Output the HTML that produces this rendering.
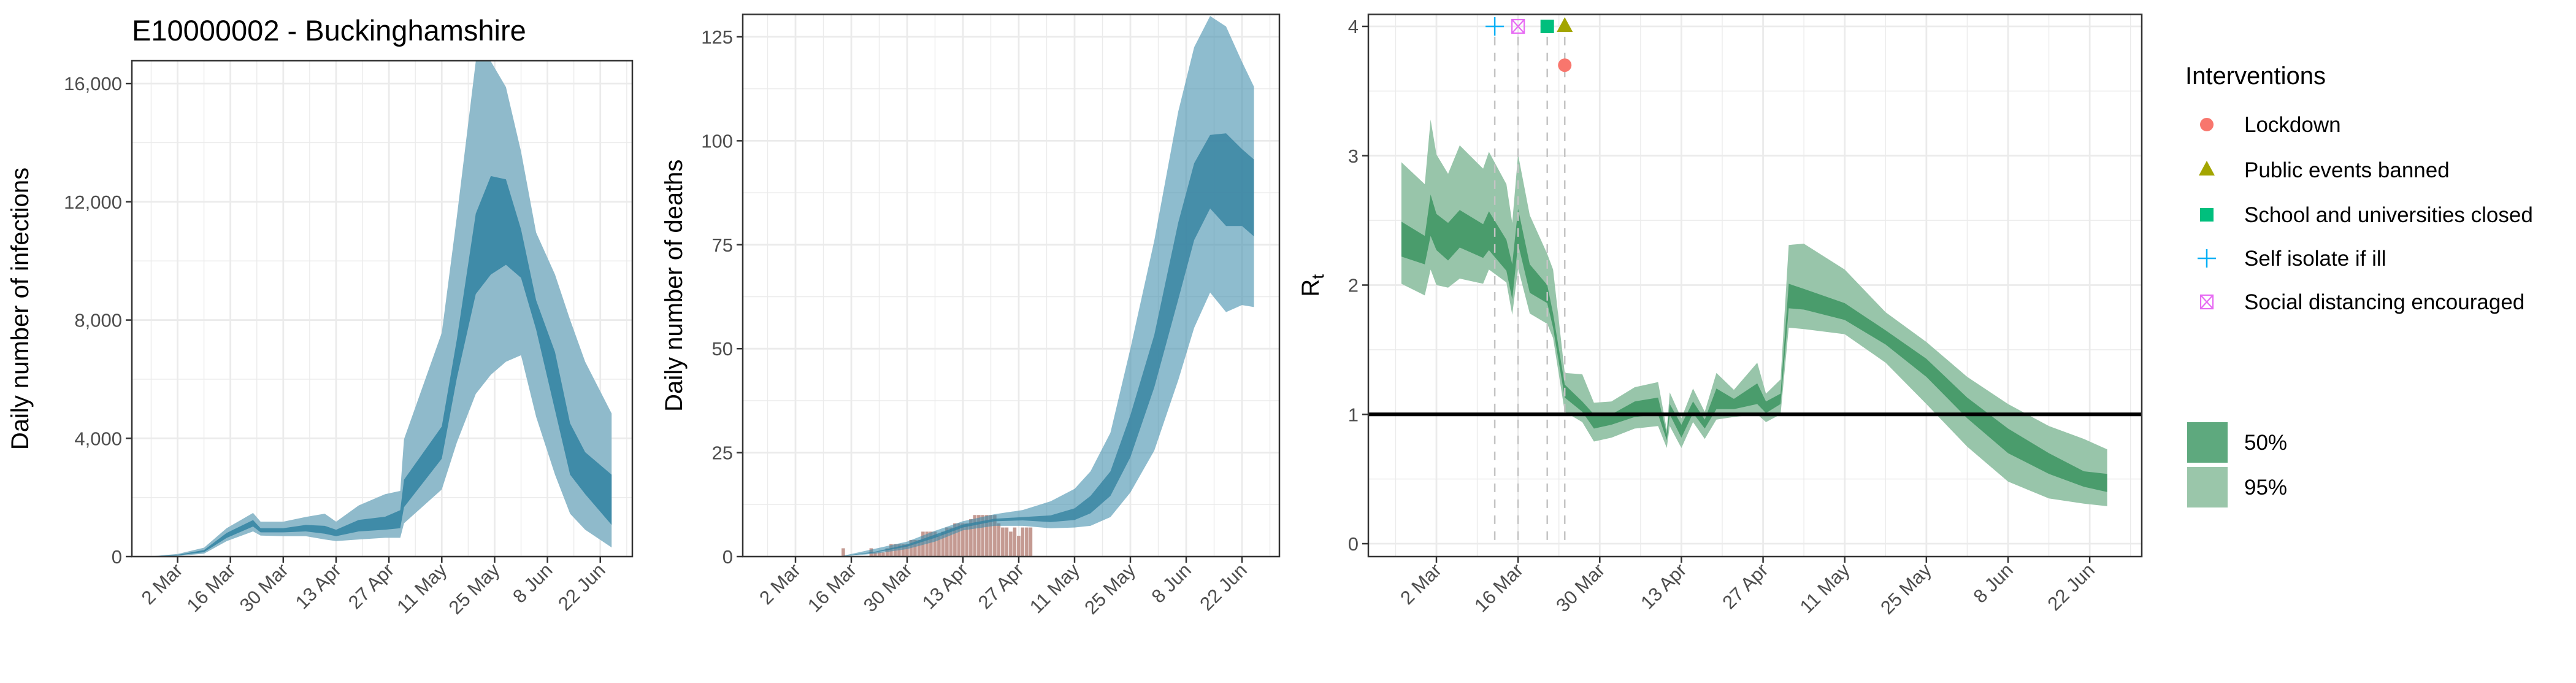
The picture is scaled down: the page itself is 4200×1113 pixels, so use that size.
<!DOCTYPE html>
<html><head><meta charset="utf-8"><style>
html,body{margin:0;padding:0;background:#fff;}
svg{display:block;font-family:"Liberation Sans",sans-serif;}
</style></head><body>
<svg id="chart" width="4200" height="1113" viewBox="0 0 4200 1113" xmlns="http://www.w3.org/2000/svg">
<rect width="4200" height="1113" fill="#fff"/>
<text x="215" y="66" font-size="47" fill="#000">E10000002 - Buckinghamshire</text>
<g id="p1"></g>
<g id="p2"></g>
<g id="p3"></g>
<g id="legend"></g>
</svg>
<script>
const tickDays=[0,14,28,42,56,70,84,98,112];
const tickLabels=["2 Mar","16 Mar","30 Mar","13 Apr","27 Apr","11 May","25 May","8 Jun","22 Jun"];
const minorDays=[-7,7,21,35,49,63,77,91,105,119];

const infDays=[-6,0,7,13,20,22,28,34,39,42,48,55,59,60,70,74,79,83,87,91,95,100,104,108,115];
const infU95=[20,90,300,960,1475,1180,1180,1340,1450,1180,1730,2110,2220,3970,7570,11500,16750,16750,15880,13700,10960,9540,8010,6590,4840];
const infU50=[10,60,220,800,1235,960,960,1070,1040,910,1240,1350,1570,2600,4400,7350,11600,12870,12760,11070,8670,6920,4510,3530,2770];
const infL50=[5,40,150,630,1016,820,820,850,775,690,850,910,960,1670,3310,6040,8880,9540,9870,9430,7680,4950,2770,2110,1070];
const infL95=[0,20,100,520,850,710,690,690,580,525,580,635,635,1125,2270,3860,5500,6150,6590,6810,4730,2770,1450,910,310];
const infTicks=[0,4000,8000,12000,16000];
const infTickLabels=["0","4,000","8,000","12,000","16,000"];

const dthDays=[11,20,28,35,42,50,57,64,70,74,79,84,90,96,100,104,108,112,115];
const dthU95=[0,1.9,3.6,6.2,8.5,10.2,11.2,13.3,16.3,20.5,29.8,50,76,107,122.5,130,127.5,119,113];
const dthU50=[0,1.2,2.9,5.3,7.7,9.1,9.5,9.9,11.6,14.6,20.5,34,53.3,80.3,94.6,101.4,101.8,98,95.5];
const dthL50=[0,1.0,2.4,4.5,7.0,8.5,8.7,8.3,8.8,10.4,14.6,23.9,40.7,61.8,76.1,83.7,79.5,79.5,77];
const dthL95=[0,0.7,1.8,3.6,6.3,7.4,7.4,6.8,7.0,7.4,9.5,15.4,25.5,42.4,55,63.5,58.8,60.5,60];
const obsDays=[12,13,14,15,16,17,18,19,20,21,22,23,24,25,26,27,28,29,30,31,32,33,34,35,36,37,38,39,40,41,42,43,44,45,46,47,48,49,50,51,52,53,54,55,56,57,58,59];
const obsDeaths=[2,0,0,0,0,0,0,2,1,1,1,2,3,3,3,3,3,4,4,4,6,6,6,6,5,6,7,7,8,8,8,8,9,10,10,10,10,10,10,8,7,7,6,7,5,7,7,7];
const dthTicks=[0,25,50,75,100,125];
const dthTickLabels=["0","25","50","75","100","125"];

const rtDays=[-6,-2,-1,0,2,4,8,9,12,13,14,16,19,20,22,25,27,30,34,38,39.5,40,42,44,46,48,51,55,56.5,59,60.4,63,70,77,84,91,98,105,111,115];
const rtU95=[2.95,2.78,3.28,3.01,2.86,3.08,2.90,3.03,2.78,2.48,3.01,2.54,2.24,2.12,1.32,1.31,1.09,1.10,1.21,1.25,0.88,1.17,0.97,1.20,1.02,1.32,1.19,1.40,1.16,1.27,2.31,2.32,2.12,1.79,1.56,1.29,1.08,0.91,0.81,0.73];
const rtU50=[2.49,2.38,2.70,2.55,2.48,2.58,2.47,2.57,2.35,2.16,2.59,2.16,2.00,1.78,1.23,1.10,1.00,1.00,1.10,1.13,0.85,1.08,0.92,1.10,0.96,1.20,1.12,1.24,1.10,1.16,2.01,1.97,1.86,1.65,1.43,1.13,0.89,0.70,0.56,0.54];
const rtL50=[2.22,2.16,2.38,2.27,2.19,2.29,2.21,2.27,2.11,1.89,2.32,1.94,1.86,1.67,1.13,1.02,0.89,0.92,0.98,1.00,0.80,1.00,0.82,1.01,0.89,1.04,1.04,1.08,1.01,1.08,1.82,1.81,1.73,1.54,1.29,0.97,0.70,0.54,0.44,0.40];
const rtL95=[2.01,1.92,2.12,2.00,1.98,2.05,2.01,2.12,2.02,1.77,2.13,1.78,1.70,1.59,1.02,0.94,0.79,0.82,0.89,0.91,0.74,0.91,0.74,0.94,0.81,0.96,0.98,1.00,0.94,1.00,1.67,1.66,1.62,1.40,1.08,0.75,0.48,0.35,0.31,0.29];
const rtTicks=[0,1,2,3,4];
const rtTickLabels=["0","1","2","3","4"];

const intNames=["Lockdown","Public events banned","School and universities closed","Self isolate if ill","Social distancing encouraged"];
const intDays=[22,22,19,10,14];
const intY=[3.7,4,4,4,4];
const intColors=["#F8766D","#A3A500","#00BF7D","#00B0F6","#E76BF3"];

const NS="http://www.w3.org/2000/svg";
function mk(parent,tag,attrs){const e=document.createElementNS(NS,tag);for(const k in attrs)e.setAttribute(k,attrs[k]);parent.appendChild(e);return e;}

function panel(g,cfg){
  const {L,R,T,B,x,y,yMajor,yMinor,yLabels,title,titleX}=cfg;
  const grid=mk(g,'g',{});
  
  
  yMinor.forEach(v=>{const yy=y(v);if(yy>T&&yy<B)mk(grid,'line',{x1:L,x2:R,y1:yy,y2:yy,stroke:'#ebebeb','stroke-width':1.4});});
  minorDays.forEach(d=>{const xx=x(d);if(xx>L&&xx<R)mk(grid,'line',{x1:xx,x2:xx,y1:T,y2:B,stroke:'#ebebeb','stroke-width':1.4});});
  yMajor.forEach(v=>{const yy=y(v);mk(grid,'line',{x1:L,x2:R,y1:yy,y2:yy,stroke:'#ebebeb','stroke-width':2.8});});
  tickDays.forEach(d=>{const xx=x(d);mk(grid,'line',{x1:xx,x2:xx,y1:T,y2:B,stroke:'#ebebeb','stroke-width':2.8});});
  const yt=mk(g,'g',{});
  
  
  yMajor.forEach((v,i)=>{const yy=y(v);
    mk(yt,'line',{x1:L-10,x2:L,y1:yy,y2:yy,stroke:'#333','stroke-width':2.5});
    const t=mk(yt,'text',{x:L-16,y:yy+11,'text-anchor':'end','font-size':31,fill:'#4d4d4d'});
    
    
    t.textContent=yLabels[i];});
  const xt=mk(g,'g',{});
  
  
  tickDays.forEach((d,i)=>{const xx=x(d);
    mk(xt,'line',{x1:xx,x2:xx,y1:B,y2:B+10,stroke:'#333','stroke-width':2.5});
    const t=mk(xt,'text',{x:0,y:0,'text-anchor':'end','font-size':31,fill:'#4d4d4d',transform:`translate(${xx+10},${B+24}) rotate(-45)`});
    
    
    t.textContent=tickLabels[i];});
  const at=mk(g,'text',{x:0,y:0,'text-anchor':'middle','font-size':40,fill:'#000',transform:`translate(${titleX},${(T+B)/2}) rotate(-90)`});
  
  
  return at;
}
function frame(g,L,R,T,B){const f=mk(g,'rect',{x:L,y:T,width:R-L,height:B-T,fill:'none',stroke:'#333','stroke-width':2.5});
  
  }
function band(g,days,hi,lo,x,y,fill,name){
  let d='M'+days.map((dd,i)=>x(dd).toFixed(1)+','+y(hi[i]).toFixed(1)).join('L');
  for(let i=days.length-1;i>=0;i--)d+='L'+x(days[i]).toFixed(1)+','+y(lo[i]).toFixed(1);
  const p=mk(g,'path',{d:d+'Z',fill:fill});
  
  
}

// Panel 1
(function(){
  const g=document.getElementById('p1');
  const L=215,R=1031,T=99,B=907;
  const x=d=>289.5+6.154*d, y=v=>907-v*0.04818;
  const at=panel(g,{L,R,T,B,x,y,yMajor:infTicks,yMinor:[2000,6000,10000,14000],yLabels:infTickLabels,titleX:46});
  at.textContent='Daily number of infections';
  band(g,infDays,infU95,infL95,x,y,'#8fbacb','infections-95-band');
  band(g,infDays,infU50,infL50,x,y,'#3f8ba8','infections-50-band');
  frame(g,L,R,T,B);
})();

// Panel 2
(function(){
  const g=document.getElementById('p2');
  const L=1211,R=2086,T=23.5,B=907;
  const x=d=>1297+6.5*d, y=v=>907-v*6.776;
  const at=panel(g,{L,R,T,B,x,y,yMajor:dthTicks,yMinor:[12.5,37.5,62.5,87.5,112.5],yLabels:dthTickLabels,titleX:1112});
  at.textContent='Daily number of deaths';
  const bars=mk(g,'g',{});
  
  
  obsDays.forEach((d,i)=>{if(obsDeaths[i]<=0)return;
    const r=mk(bars,'rect',{x:x(d)-2.9,y:y(obsDeaths[i]),width:5.6,height:y(0)-y(obsDeaths[i]),fill:'#c49a92'});
    
    });
  band(g,dthDays,dthU95,dthL95,x,y,'rgba(60,140,170,0.58)','deaths-95-band');
  band(g,dthDays,dthU50,dthL50,x,y,'rgba(52,130,160,0.8)','deaths-50-band');
  frame(g,L,R,T,B);
})();

// Panel 3
(function(){
  const g=document.getElementById('p3');
  const L=2231,R=3492,T=23.5,B=907;
  const x=d=>2342+9.51*d, y=v=>886-v*210.75;
  const at=panel(g,{L,R,T,B,x,y,yMajor:rtTicks,yMinor:[0.5,1.5,2.5,3.5],yLabels:rtTickLabels,titleX:2150});
  at.textContent='R';
  const sub=mk(at,'tspan',{'font-size':28,dy:8});sub.textContent='t';
  band(g,rtDays,rtU95,rtL95,x,y,'#98c5aa','rt-95-band');
  band(g,rtDays,rtU50,rtL50,x,y,'#4a9c6c','rt-50-band');
  const ln=mk(g,'line',{x1:L,x2:R,y1:y(1),y2:y(1),stroke:'#000','stroke-width':6});
  
  
  intDays.forEach((d,i)=>{if(i===0)return;
    const v=mk(g,'line',{x1:x(d),x2:x(d),y1:y(3.92),y2:y(0),stroke:'#c4c4c4','stroke-width':2.5,'stroke-dasharray':'14 12'});
    
    });
  intDays.forEach((d,i)=>{drawMarker(g,i,x(d),y(intY[i]));});
  frame(g,L,R,T,B);
})();

function drawMarker(g,i,cx,cy){
  const c=intColors[i];let m;
  if(i===0)m=mk(g,'circle',{cx,cy,r:11,fill:c});
  else if(i===1)m=mk(g,'path',{d:`M${cx},${cy-15}L${cx+13},${cy+9}L${cx-13},${cy+9}Z`,fill:c});
  else if(i===2)m=mk(g,'rect',{x:cx-11,y:cy-11,width:22,height:22,fill:c});
  else if(i===3)m=mk(g,'path',{d:`M${cx-15},${cy}H${cx+15}M${cx},${cy-15}V${cx+0*0+cy+15-cy+cy-cy}`,stroke:c,'stroke-width':2.5,fill:'none'});
  else m=mk(g,'path',{d:`M${cx-10},${cy-11}h20v22h-20zM${cx-10},${cy-11}L${cx+10},${cy+11}M${cx+10},${cy-11}L${cx-10},${cy+11}`,stroke:c,'stroke-width':2.2,fill:'none'});
  if(i===3)m.setAttribute('d',`M${cx-15},${cy}H${cx+15}M${cx},${cy-15}V${cy+15}`);
  
  
}

// Legend
(function(){
  const g=document.getElementById('legend');
  const t=mk(g,'text',{x:3563,y:137,'font-size':40,fill:'#000'});
  
  
  t.textContent='Interventions';
  const ys=[203,277,350,421,492];
  intNames.forEach((n,i)=>{
    const e=mk(g,'g',{});
    
    
    drawMarker(e,i,3598,ys[i]);
    const tx=mk(e,'text',{x:3659,y:ys[i]+12,'font-size':35,fill:'#000'});tx.textContent=n;});
  const b1=mk(g,'rect',{x:3566,y:688,width:66,height:66,fill:'#5ea97e'});
  
  
  const b2=mk(g,'rect',{x:3566,y:761,width:66,height:66,fill:'#9ac6aa'});
  
  
  const t1=mk(g,'text',{x:3659,y:733,'font-size':35,fill:'#000'});t1.textContent='50%';
  
  
  const t2=mk(g,'text',{x:3659,y:806,'font-size':35,fill:'#000'});t2.textContent='95%';
  
  
})();
</script>
</body></html>
